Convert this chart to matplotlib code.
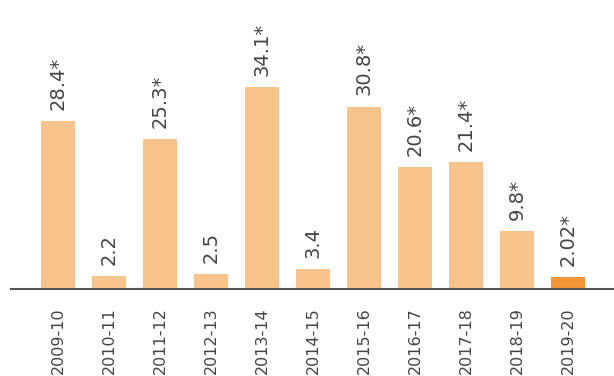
import numpy as np
import matplotlib
matplotlib.use('Agg')
from matplotlib import pyplot as plt

years = ['2009-10', '2010-11', '2011-12', '2012-13', '2013-14', '2014-15',
         '2015-16', '2016-17', '2017-18', '2018-19', '2019-20']
values = [28.4, 2.2, 25.3, 2.5, 34.1, 3.4, 30.8, 20.6, 21.4, 9.8, 2.02]
labels = ['28.4*', '2.2', '25.3*', '2.5', '34.1*', '3.4', '30.8*',
          '20.6*', '21.4*', '9.8*', '2.02*']

light = '#F9C48B'
dark = '#F39635'
text_col = '#444444'

fig = plt.figure(figsize=(6.14, 3.76), dpi=100)
W, H = 614, 376
# axes from x=11..614, baseline at y=289
ax = fig.add_axes([11 / W, (H - 289) / H, 603 / W, 289 / H])

x = np.arange(len(years))
colors = [light] * (len(years) - 1) + [dark]
ax.bar(x, values, width=0.667, color=colors, zorder=2)

for xi, v, lab in zip(x, values, labels):
    ax.annotate(lab, (xi, v), xytext=(0, 8), textcoords='offset points',
                rotation=90, ha='center', va='bottom', fontsize=14,
                color=text_col)

ax.set_xlim(-0.922, 10.902)
ax.set_ylim(0, 48.8)

for s in ['top', 'right', 'left']:
    ax.spines[s].set_visible(False)
ax.spines['bottom'].set_color('#555555')
ax.spines['bottom'].set_linewidth(1.5)

ax.set_yticks([])
ax.set_xticks(x)
ax.set_xticklabels(years, rotation=90, fontsize=11.5, color=text_col)
ax.tick_params(axis='x', length=0, pad=13)

fig.savefig('out.png', dpi=100)
